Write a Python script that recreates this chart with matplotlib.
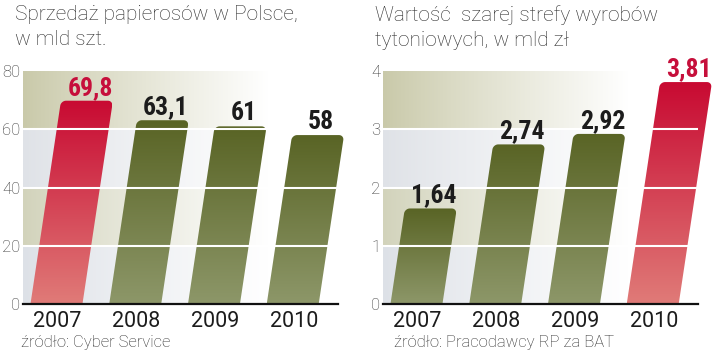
import numpy as np
import matplotlib
matplotlib.use('Agg')
import matplotlib.pyplot as plt
from matplotlib.path import Path
from matplotlib.patches import PathPatch
from matplotlib.colors import to_rgb

# ---------------- data ----------------
years = ['2007', '2008', '2009', '2010']
sales = [69.8, 63.1, 61, 58]
sales_labels = ['69,8', '63,1', '61', '58']
grey_zone = [1.64, 2.74, 2.92, 3.81]
grey_labels = ['1,64', '2,74', '2,92', '3,81']
highlight1 = 0
highlight2 = 3
yticks1 = [0, 20, 40, 60, 80]
yticks2 = [0, 1, 2, 3, 4]
title1 = 'Sprzedaż papierosów w Polsce,\nw mld szt.'
title2 = 'Wartość  szarej strefy wyrobów\ntytoniowych, w mld zł'
source1 = 'źródło: Cyber Service'
source2 = 'źródło: Pracodawcy RP za BAT'

# ---------------- style ----------------
W, H, DPI = 7.2, 3.59, 100
LIGHT = ['Roboto', 'DejaVu Sans']
COND = ['Roboto Condensed', 'DejaVu Sans Condensed', 'Liberation Sans Narrow',
        'Roboto', 'DejaVu Sans']
RED_TOP, RED_BOT = '#c80a32', '#e07b78'
OLV_TOP, OLV_BOT = '#596425', '#8d9769'
BAND_COLS = ['#dde1e7', '#d2d3bb', '#dfe2e7', '#c9c9a9']
RED_TXT = '#c60f3b'
TXT = '#1c1c1c'

fig = plt.figure(figsize=(W, H), dpi=DPI)
fig.patch.set_facecolor('white')


def grad(c1, c2, n=256):
    a = np.array(to_rgb(c1)); b = np.array(to_rgb(c2))
    t = np.linspace(0, 1, n)[:, None, None]
    return a * (1 - t) + b * t


def draw(ax, vals, labels, hi, yticks, title, source, tx, sx):
    n = len(vals)
    ymax = yticks[-1]
    ax.set_xlim(-0.5, n - 0.5)
    ax.set_ylim(0, ymax)
    bb = ax.get_position()
    ppx = bb.width * W * DPI / n
    ppy = bb.height * H * DPI / ymax
    # background bands: horizontal gradient to white
    for j in range(len(yticks) - 1):
        c = np.array(to_rgb(BAND_COLS[j]))
        t = np.clip(np.linspace(0, 1, 256) / 0.78, 0, 1) ** 0.9
        t = t[None, :, None]
        img = c * (1 - t) + t
        ax.imshow(img, extent=(-0.5, n - 0.5, yticks[j], yticks[j + 1]),
                  aspect='auto', zorder=0, interpolation='bilinear')
    # slanted bars with rounded tops and vertical gradients
    k = 0.15          # shear (px per px of height)
    wpx = 0.66 * ppx
    r = 5.0
    for i, v in enumerate(vals):
        h = v * ppy
        cx0 = i - 0.075
        pts = [(-wpx / 2, 0), (wpx / 2, 0), (wpx / 2, h - r)]
        for a in np.linspace(0, np.pi / 2, 10):
            pts.append((wpx / 2 - r + r * np.cos(a), h - r + r * np.sin(a)))
        for a in np.linspace(np.pi / 2, np.pi, 10):
            pts.append((-wpx / 2 + r + r * np.cos(a), h - r + r * np.sin(a)))
        pts.append((-wpx / 2, 0))
        xy = [(cx0 + (u + k * w) / ppx, w / ppy) for u, w in pts]
        patch = PathPatch(Path(xy), facecolor='none', edgecolor='none')
        ax.add_patch(patch)
        top, bot = (RED_TOP, RED_BOT) if i == hi else (OLV_TOP, OLV_BOT)
        xs = [p[0] for p in xy]
        im = ax.imshow(grad(top, bot), extent=(min(xs), max(xs), 0, v),
                       aspect='auto', zorder=2, interpolation='bilinear')
        im.set_clip_path(patch)
        im.set_clip_box(fig.bbox)
        xc = cx0 + k * h / ppx
        ax.text(xc + 3 / ppx, v + 6 / ppy, labels[i], ha='center', va='baseline',
                fontsize=18.5, fontweight='bold', fontstretch='condensed',
                family=COND, color=RED_TXT if i == hi else TXT, zorder=5)
    # gridlines
    for yt in yticks[1:-1]:
        ax.axhline(yt, color='white', lw=1.5, zorder=3)
    ax.set_xlim(-0.5, n - 0.5)
    ax.set_ylim(0, ymax)
    for s in ['top', 'right', 'left']:
        ax.spines[s].set_visible(False)
    ax.spines['bottom'].set_color('#111111')
    ax.spines['bottom'].set_linewidth(1.6)
    ax.spines['bottom'].set_zorder(6)
    ax.set_yticks(yticks)
    ax.set_yticklabels([str(t) for t in yticks], family=LIGHT, fontweight='light',
                       fontsize=12, color='#333333')
    ax.tick_params(axis='y', length=0, pad=2)
    ax.set_xticks([i - 0.06 for i in range(n)])
    ax.set_xticklabels(years, family=LIGHT, fontsize=15.5, color=TXT)
    ax.tick_params(axis='x', length=0, pad=5)
    fig.text(tx, 1 - 5 / (H * DPI), title, ha='left', va='top', family=LIGHT,
             fontweight='light', fontsize=15, color='#2b2b2b', linespacing=1.4)
    fig.text(sx, 1 - 343 / (H * DPI), source, ha='left', va='center', family=LIGHT,
             fontweight='light', fontsize=12, color='#2b2b2b')


ax1 = fig.add_axes([23 / 720, 55 / 359, 315 / 720, 233 / 359])
ax2 = fig.add_axes([383 / 720, 55 / 359, 315 / 720, 233 / 359])
draw(ax1, sales, sales_labels, highlight1, yticks1, title1, source1, 15 / 720, 21 / 720)
draw(ax2, grey_zone, grey_labels, highlight2, yticks2, title2, source2, 375 / 720, 394 / 720)

fig.savefig('out.png', dpi=DPI, facecolor='white')
